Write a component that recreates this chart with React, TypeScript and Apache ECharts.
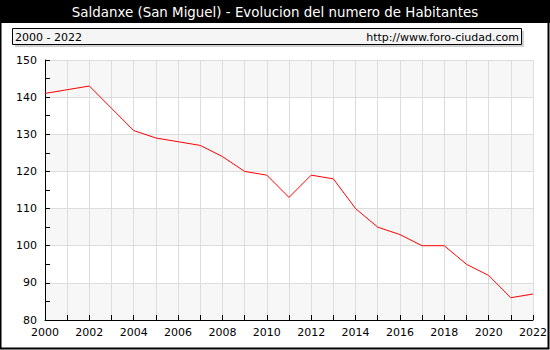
import React, { useEffect, useRef } from "react";
import * as echarts from "echarts";

const titleText = "Saldanxe (San Miguel) - Evolucion del numero de Habitantes";
const periodText = "2000 - 2022";
const sourceText = "http://www.foro-ciudad.com";
const years = [2000, 2001, 2002, 2003, 2004, 2005, 2006, 2007, 2008, 2009, 2010, 2011, 2012, 2013, 2014, 2015, 2016, 2017, 2018, 2019, 2020, 2021, 2022];
const inhabitants = [141, 142, 143, 137, 131, 129, 128, 127, 124, 120, 119, 113, 119, 118, 110, 105, 103, 100, 100, 95, 92, 86, 87];

const FONT = "DejaVu Sans";

export default function App() {
  const ref = useRef<HTMLDivElement>(null);
  useEffect(() => {
    document.body.style.margin = "0";
    const chart = echarts.init(ref.current!, null, { renderer: "svg" });
    chart.setOption({
      animation: false,
      backgroundColor: "#ffffff",
      graphic: [
        { type: "rect", shape: { x: 0, y: 0, width: 550, height: 23 }, style: { fill: "#000000" }, z: 10 },
        { type: "rect", shape: { x: 0.5, y: 0.5, width: 548, height: 348 }, style: { fill: "none", stroke: "#000000", lineWidth: 2 }, z: 10 },
        {
          type: "text", x: 275, y: 12, z: 11,
          style: { text: titleText, fill: "#ffffff", font: `13.4px '${FONT}'`, align: "center", verticalAlign: "middle" },
        },
        { type: "rect", shape: { x: 15, y: 31, width: 509, height: 16 }, style: { fill: "#d0d0d0" }, z: 10 },
        { type: "rect", shape: { x: 12.5, y: 28.5, width: 509, height: 16 }, style: { fill: "#f5f5f5", stroke: "#000000", lineWidth: 1 }, z: 11 },
        {
          type: "text", x: 15, y: 37, z: 12,
          style: { text: periodText, fill: "#000000", font: `11px '${FONT}'`, align: "left", verticalAlign: "middle" },
        },
        {
          type: "text", x: 519, y: 37, z: 12,
          style: { text: sourceText, fill: "#000000", font: `11px '${FONT}'`, align: "right", verticalAlign: "middle" },
        },
      ],
      grid: { left: 45, right: 15, top: 60, bottom: 30 },
      xAxis: {
        type: "value",
        min: 2000,
        max: 2022,
        interval: 1,
        axisLine: { show: true, lineStyle: { color: "#000000", width: 1 } },
        axisTick: { show: true, inside: true, length: 5, lineStyle: { color: "#000000" } },
        axisLabel: {
          color: "#000000", fontFamily: FONT, fontSize: 11, margin: 7,
          formatter: (v: number) => (v % 2 === 0 ? String(v) : ""),
          showMinLabel: true, showMaxLabel: true,
        },
        splitLine: { show: true, lineStyle: { color: "#dddddd", width: 1 } },
      },
      yAxis: {
        type: "value",
        min: 80,
        max: 150,
        interval: 10,
        axisLine: { show: true, lineStyle: { color: "#000000", width: 1 } },
        axisTick: { show: true, inside: true, length: 5, lineStyle: { color: "#000000" } },
        minorTick: { show: true, splitNumber: 2, length: 5, lineStyle: { color: "#000000" } },
        axisLabel: { color: "#000000", fontFamily: FONT, fontSize: 11, margin: 8 },
        splitLine: { show: true, lineStyle: { color: "#dddddd", width: 1 } },
        splitArea: { show: true, areaStyle: { color: ["#f7f7f7", "#ffffff"] } },
      },
      series: [
        {
          type: "line",
          data: years.map((y, i) => [y, inhabitants[i]]),
          showSymbol: false,
          symbol: "none",
          lineStyle: { color: "#ff0000", width: 1 },
          z: 5,
        },
      ],
    });
    return () => chart.dispose();
  }, []);
  return <div ref={ref} style={{ width: 550, height: 350 }} />;
}
